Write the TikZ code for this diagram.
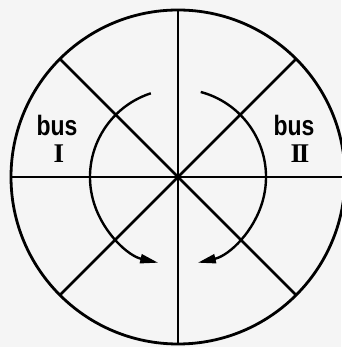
\documentclass[tikz,border=0pt]{standalone}
\usepackage{fontspec}
\setmainfont{Liberation Serif}
\newfontfamily\busfont{Liberation Sans}
\usetikzlibrary{arrows.meta}
\tikzset{
  ln/.style={line width=2.5pt, black},
  arcarrow/.style={line width=2.4pt, -{Triangle[length=18pt,width=9pt]}},
  buslabel/.style={font=\busfont\bfseries\fontsize{28}{28}\selectfont, xscale=0.82, inner sep=0pt},
  numlabel/.style={font=\bfseries\fontsize{27}{27}\selectfont, inner sep=0pt}
}
\begin{document}
\begin{tikzpicture}[x=1pt,y=1pt]
\fill[white!96!black] (0,0) rectangle (341,347);
\useasboundingbox (0,0) rectangle (341,347);
\node[circle, draw, line width=2.8pt, minimum size=334pt, inner sep=0pt, outer sep=0pt] (O) at (178,170) {};
\coordinate (c) at (178,170);
\draw[ln] (O.0) -- (O.180);
\draw[ln] (O.90) -- (O.270);
\draw[ln] (O.45) -- (O.225);
\draw[ln] (O.135) -- (O.315);
\draw[arcarrow] (c) ++(108:88) arc[start angle=108, end angle=257, radius=88];
\draw[arcarrow] (c) ++(75:88) arc[start angle=75, end angle=-77, radius=88];
\node[buslabel] (b1) at (57,222) {bus};
\node[numlabel] (n1) at (59,193) {I};
\node[buslabel] (b2) at (294,222) {bus};
\node[numlabel] (n2) at (300,193) {I\kern-2.5pt I};
\end{tikzpicture}
\end{document}
